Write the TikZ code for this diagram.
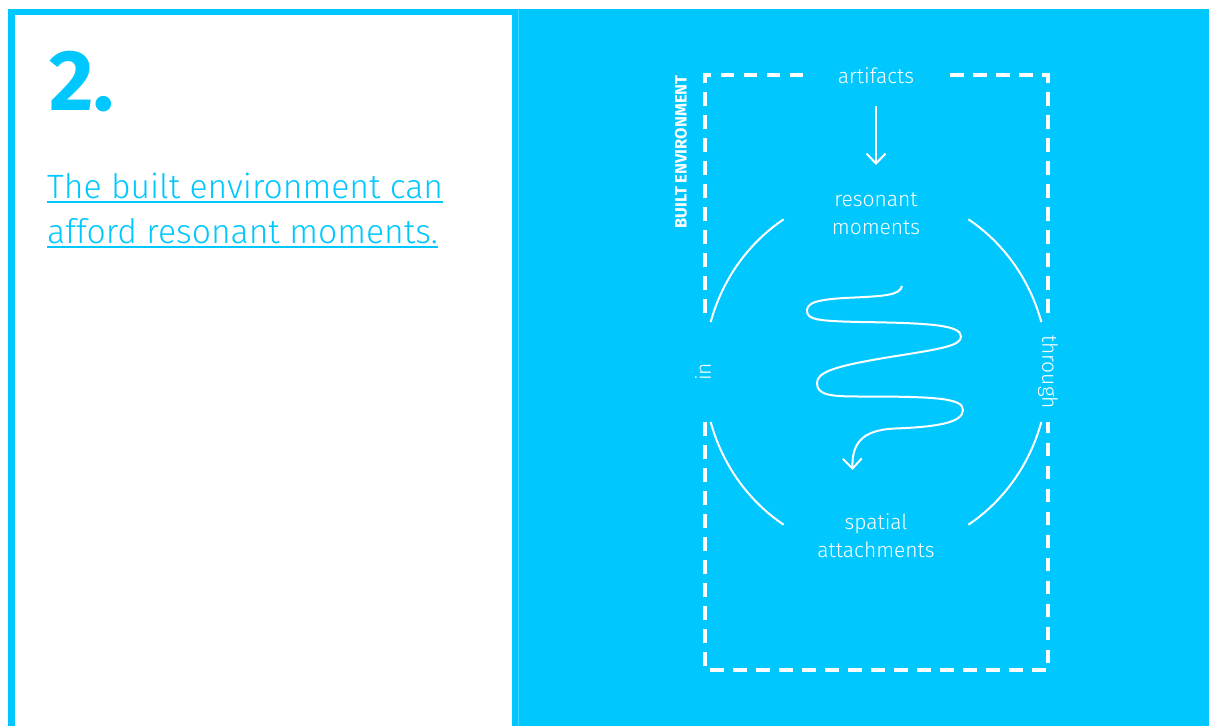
\documentclass[tikz,border=0pt]{standalone}
\usepackage{fontspec}
\usetikzlibrary{arrows.meta,calc}
\newfontfamily\lightf{Fira Sans Light}
\newfontfamily\boldf{Fira Sans Bold}
\definecolor{cy}{RGB}{0,200,255}
\tikzset{
  sub/.style={font=\lightf\fontsize{33.7}{33.7}\selectfont, text=cy, inner sep=0pt, anchor=base west},
  lbl/.style={font=\lightf\fontsize{21}{28}\selectfont, text=white, inner sep=0pt, align=center},
  wl/.style={draw=white, line width=2pt},
  dbox/.style={draw=white, line width=4pt, dash pattern=on 13.5pt off 9.5pt},
  barb/.style={-{Straight Barb[length=10pt,width=19pt]}}
}
\begin{document}
\begin{tikzpicture}[x=1pt,y=-1pt]
\useasboundingbox (0,0) rectangle (1209,726);
\fill[cy] (8,9) rectangle (1209,726);
\fill[white] (15,15) rectangle (512,726);
\draw[cy!75!white, line width=0.8pt] (518,9) -- (518,726);
% left panel
\node[font=\boldf\fontsize{86}{86}\selectfont, text=cy, anchor=base west, inner sep=0pt] (num) at (49,110) {2.};
\node[sub] (l1) at (47,198) {The built environment can\ };
\node[sub] (l2) at (47,243) {afford resonant moments.};
\draw[cy, line width=2pt] ([yshift=-4pt]l1.base west) -- ([yshift=-4pt]l1.base east);
\draw[cy, line width=2pt] ([yshift=-4pt]l2.base west) -- ([yshift=-4pt]l2.base east);
% dashed box
\coordinate (tl) at (705,75);
\coordinate (bl) at (705,670);
\coordinate (br) at (1048,670);
\coordinate (tr) at (1048,75);
\draw[dbox] (803,75) -- (tl) -- (705,321.5);
\draw[dbox] (705,422) -- (bl) -- (br) -- (1048,422);
\draw[dbox] (950,75) -- (tr) -- (1048,321.5);
% labels
\node[font=\boldf\fontsize{16.5}{16.5}\selectfont, text=white, rotate=90, inner sep=0pt] (be) at (681,152) {BUILT ENVIRONMENT};
\node[lbl, anchor=base] (art) at (876,83) {artifacts};
\node[lbl, anchor=north] (res) at (876,193) {resonant\\moments};
\node[lbl, anchor=north] (spa) at (876,513.5) {spatial\\attachments};
\node[lbl, rotate=90] (in) at (703,372) {in};
\node[lbl, rotate=-90] (thr) at (1048,372) {through};
% arrow
\draw[wl, barb, shorten <=23pt, shorten >=28pt] (art.south) -- (res.north);
% arcs
\coordinate (c) at (876,372);
\draw[wl] ($(c)+(196:172 and 181)$) arc[start angle=196, end angle=237.5, x radius=172, y radius=181];
\draw[wl] ($(c)+(302.5:172 and 181)$) arc[start angle=302.5, end angle=344, x radius=172, y radius=181];
\draw[wl] ($(c)+(16:172 and 181)$) arc[start angle=16, end angle=57.5, x radius=172, y radius=181];
\draw[wl] ($(c)+(122.5:172 and 181)$) arc[start angle=122.5, end angle=164, x radius=172, y radius=181];
% squiggle
\coordinate (s0) at (902,286);
\coordinate (s1) at (852.5,470);
\draw[wl, barb] (s0)
  .. controls (900,295) and (885,296) .. (855,297.5)
  .. controls (815,299) and (807,303) .. (807,311)
  .. controls (807,320) and (820,321) .. (860,322)
  .. controls (930,323) and (961,325) .. (961,336.5)
  .. controls (961,346) and (940,349) .. (890,357)
  .. controls (835,366) and (817,372) .. (817,383)
  .. controls (817,395) and (830,396.5) .. (860,396.5)
  .. controls (935,396.5) and (963,398) .. (963,410)
  .. controls (963,423) and (935,427) .. (895,428.5)
  .. controls (860,430) and (852,445) .. (s1);
\end{tikzpicture}
\end{document}
